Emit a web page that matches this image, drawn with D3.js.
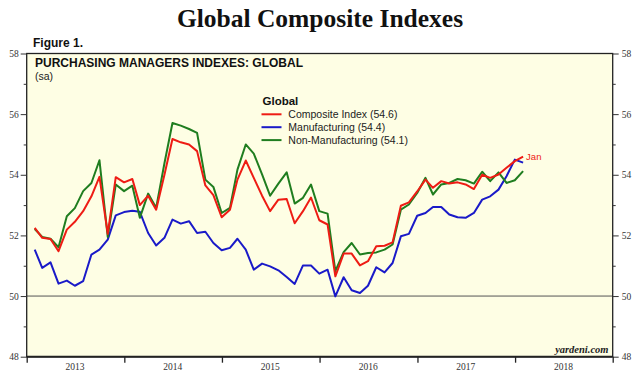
<!DOCTYPE html>
<html><head><meta charset="utf-8">
<script src="https://cdn.jsdelivr.net/npm/d3@7"></script>
<style>html,body{margin:0;padding:0;background:#fff;}svg{display:block;}</style>
</head><body>
<svg id="c" width="636" height="373"></svg>
<script>
const startYear = 2013;
const months = d3.range(61).map(i => { const y = startYear + Math.floor(i/12), m = i%12 + 1; return y + "-" + String(m).padStart(2,"0"); });
const composite = [52.25,51.92,51.88,51.48,52.19,52.45,52.8,53.29,53.93,52.05,53.92,53.75,
  53.86,53.0,53.31,52.85,54.0,55.18,55.07,55.0,54.78,53.65,53.33,52.6,
  52.85,53.84,54.47,53.9,53.31,52.8,53.18,53.2,52.4,52.8,53.25,52.5,
  52.36,50.65,51.4,51.4,51.01,51.15,51.64,51.66,51.77,52.98,53.09,53.45,
  53.84,53.57,53.79,53.71,53.75,53.68,53.53,54.0,53.9,54.01,54.23,54.45,
  54.6];
const manufacturing = [51.53,50.93,51.11,50.41,50.51,50.34,50.49,51.37,51.53,51.86,52.66,52.77,
  52.81,52.78,52.08,51.67,51.92,52.52,52.39,52.47,52.08,52.12,51.75,51.51,
  51.59,51.89,51.53,50.87,51.07,50.98,50.85,50.63,50.40,51.01,51.01,50.74,
  50.87,49.99,50.62,50.19,50.10,50.34,50.95,50.78,51.09,51.97,52.05,52.65,
  52.74,52.94,52.94,52.69,52.60,52.58,52.74,53.18,53.29,53.51,53.95,54.5,
  54.4];
const nonManufacturing = [52.21,51.95,51.89,51.61,52.63,52.9,53.46,53.73,54.48,51.95,53.68,53.46,
  53.64,52.58,53.38,52.91,54.38,55.71,55.62,55.51,55.38,53.84,53.6,52.74,
  52.91,54.17,55.0,54.7,54.01,53.31,53.71,54.08,53.05,53.24,53.68,52.8,
  52.72,50.82,51.45,51.75,51.37,51.42,51.44,51.53,51.70,52.85,53.02,53.4,
  53.9,53.35,53.68,53.73,53.86,53.82,53.71,54.1,53.79,54.08,53.73,53.82,
  54.12];
const yearLabels = ["2013","2014","2015","2016","2017","2018"];
const yTicks = [48,50,52,54,56,58];
const yMinor = [49,51,53,55,57];
const seriesNames = ["Composite Index (54.6)","Manufacturing (54.4)","Non-Manufacturing (54.1)"];
const seriesColors = ["#ee1c14","#1a1ac8","#1f7d1f"];

const svg = d3.select("#c");
const L = 26.7, R = 612.7, T = 53.5, B = 356.7;
const x = d3.scaleTime().domain([new Date(2013,0,1), new Date(2019,0,1)]).range([L, R]);
const y = d3.scaleLinear().domain([48,58]).range([B, T]);
const parse = s => { const [yy, mm] = s.split("-").map(Number); return new Date(yy, mm, 0); };

// title
svg.append("text").attr("x",320).attr("y",27).attr("text-anchor","middle")
  .style("font-family","'Liberation Serif','Times New Roman',serif").style("font-weight","bold")
  .style("font-size","25.5px").attr("fill","#111").text("Global Composite Indexes");
svg.append("text").attr("x",33).attr("y",47)
  .style("font-family","'Liberation Sans',Arial,sans-serif").style("font-weight","bold")
  .style("font-size","12px").attr("fill","#111").text("Figure 1.");

// plot bg
svg.append("rect").attr("x",L).attr("y",T).attr("width",R-L).attr("height",B-T).attr("fill","#fefee4");

// 50 line
svg.append("line").attr("x1",L).attr("x2",R).attr("y1",y(50)).attr("y2",y(50)).attr("stroke","#555").attr("stroke-width",1);

// lines
const line = d3.line().x((d,i) => x(parse(months[i]))).y(d => y(d));
[manufacturing, nonManufacturing, composite].forEach((arr, k) => {
  const col = [seriesColors[1], seriesColors[2], seriesColors[0]][k];
  svg.append("path").datum(arr).attr("d", line).attr("fill","none").attr("stroke",col)
    .attr("stroke-width",2).attr("stroke-linejoin","round");
});

// frame
svg.append("rect").attr("x",L).attr("y",T).attr("width",R-L).attr("height",B-T).attr("fill","none").attr("stroke","#222").attr("stroke-width",1.3);
svg.append("line").attr("x1",L).attr("x2",R).attr("y1",B).attr("y2",B).attr("stroke","#222").attr("stroke-width",2);

// axes
const tickFont = "'Liberation Serif','Times New Roman',serif";
const leftAx = d3.axisLeft(y).tickValues(yTicks).tickSize(6).tickPadding(2).tickFormat(d3.format("d"));
const gl = svg.append("g").attr("transform",`translate(${L},0)`).call(leftAx);
const rightAx = d3.axisRight(y).tickValues(yTicks).tickSize(6).tickPadding(3).tickFormat(d3.format("d"));
const gr = svg.append("g").attr("transform",`translate(${R},0)`).call(rightAx);
const glm = svg.append("g").attr("transform",`translate(${L},0)`).call(d3.axisLeft(y).tickValues(yMinor).tickSize(3).tickFormat(""));
const grm = svg.append("g").attr("transform",`translate(${R},0)`).call(d3.axisRight(y).tickValues(yMinor).tickSize(3).tickFormat(""));
[gl,gr,glm,grm].forEach(g => {
  g.select(".domain").remove();
  g.selectAll("line").attr("stroke","#333");
  g.selectAll("text").style("font-family",tickFont).style("font-size","9.5px").attr("fill","#333");
});

const xAx = d3.axisBottom(x).tickValues(d3.range(2013,2020).map(yy => new Date(yy,0,1))).tickSize(6).tickFormat("");
const gx = svg.append("g").attr("transform",`translate(0,${B})`).call(xAx);
gx.select(".domain").remove();
gx.selectAll("line").attr("stroke","#222").attr("stroke-width",1.3);
svg.append("g").selectAll("text").data(yearLabels).join("text")
  .attr("x", d => x(new Date(+d,6,1))).attr("y",369.5).attr("text-anchor","middle")
  .style("font-family",tickFont).style("font-size","9.5px").attr("fill","#333").text(d => d);

// headings
svg.append("text").attr("x",35).attr("y",67)
  .style("font-family","'Liberation Sans',Arial,sans-serif").style("font-weight","bold")
  .style("font-size","12px").attr("fill","#111").text("PURCHASING MANAGERS INDEXES: GLOBAL");
svg.append("text").attr("x",35).attr("y",80)
  .style("font-family","'Liberation Sans',Arial,sans-serif")
  .style("font-size","10.5px").attr("fill","#222").text("(sa)");

// legend
svg.append("text").attr("x",262.5).attr("y",104.5)
  .style("font-family","'Liberation Sans',Arial,sans-serif").style("font-weight","bold")
  .style("font-size","11.5px").attr("fill","#111").text("Global");
const lg = svg.append("g").selectAll("g").data(seriesNames).join("g")
  .attr("transform",(d,i) => `translate(0,${114.3 + i*12.9})`);
lg.append("line").attr("x1",261.5).attr("x2",281.5).attr("stroke",(d,i)=>seriesColors[i]).attr("stroke-width",2);
lg.append("text").attr("x",288.3).attr("y",3.8)
  .style("font-family","'Liberation Sans',Arial,sans-serif").style("font-size","10.5px").attr("fill","#222").text(d=>d);

// Jan label
const lastI = composite.length - 1;
svg.append("text").attr("x", x(parse(months[lastI])) + 3).attr("y", y(composite[lastI]) + 3)
  .style("font-family","'Liberation Sans',Arial,sans-serif").style("font-size","9.5px").attr("fill","#ee1c14").text("Jan");

// source
svg.append("text").attr("x",608.5).attr("y",353).attr("text-anchor","end")
  .style("font-family",tickFont).style("font-weight","bold").style("font-style","italic")
  .style("font-size","10.5px").attr("fill","#222").text("yardeni.com");
</script>
</body></html>
